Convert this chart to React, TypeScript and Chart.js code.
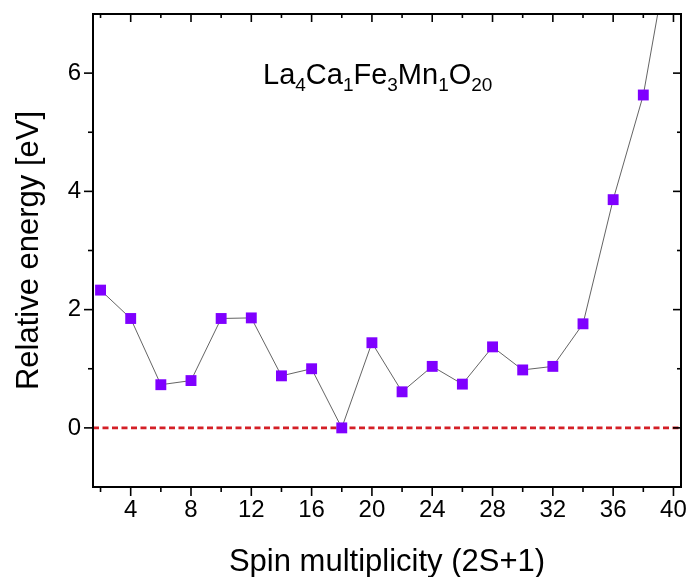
import React, { useEffect, useRef } from 'react';
import { Chart, registerables } from 'chart.js';

Chart.register(...registerables);

const spinMultiplicity = [2, 4, 6, 8, 10, 12, 14, 16, 18, 20, 22, 24, 26, 28, 30, 32, 34, 36, 38, 40];
const relativeEnergy = [2.33, 1.85, 0.73, 0.8, 1.85, 1.86, 0.88, 1.0, 0.0, 1.44, 0.61, 1.04, 0.74, 1.37, 0.98, 1.04, 1.76, 3.86, 5.63, 8.5];
const xMajorTicks = [4, 8, 12, 16, 20, 24, 28, 32, 36, 40];
const xMinorTicks = [2, 6, 10, 14, 18, 22, 26, 30, 34, 38];
const yMajorTicks = [0, 2, 4, 6];
const yMinorTicks = [1, 3, 5];
const xRange = [1.5, 40.5];
const yRange = [-1, 7];
const referenceLevel = 0;
const xTitle = 'Spin multiplicity (2S+1)';
const yTitle = 'Relative energy [eV]';
const formulaParts: [string, string][] = [
  ['La', '4'],
  ['Ca', '1'],
  ['Fe', '3'],
  ['Mn', '1'],
  ['O', '20'],
];

const FONT = '"Liberation Sans", Arial, Helvetica, sans-serif';

export default function App() {
  const ref = useRef<HTMLCanvasElement>(null);

  useEffect(() => {
    const canvas = ref.current!;
    const points = spinMultiplicity.map((x, i) => ({ x, y: relativeEnergy[i] }));
    const zeroLine = [
      { x: xRange[0], y: referenceLevel },
      { x: xRange[1], y: referenceLevel },
    ];

    const framePlugin = {
      id: 'frame',
      afterDraw(chart: any) {
        const { ctx, chartArea: a, scales } = chart;
        const xs = scales.x;
        const ys = scales.y;
        ctx.save();
        ctx.strokeStyle = '#000';
        ctx.lineWidth = 2;
        ctx.strokeRect(a.left, a.top, a.right - a.left, a.bottom - a.top);
        ctx.lineWidth = 1.6;
        const seg = (x1: number, y1: number, x2: number, y2: number) => {
          ctx.beginPath();
          ctx.moveTo(x1, y1);
          ctx.lineTo(x2, y2);
          ctx.stroke();
        };
        xMajorTicks.forEach((v) => {
          const p = xs.getPixelForValue(v);
          seg(p, a.bottom, p, a.bottom + 9);
          seg(p, a.top, p, a.top + 8);
        });
        xMinorTicks.forEach((v) => {
          const p = xs.getPixelForValue(v);
          seg(p, a.bottom, p, a.bottom + 5);
          seg(p, a.top, p, a.top + 4);
        });
        yMajorTicks.forEach((v) => {
          const p = ys.getPixelForValue(v);
          seg(a.left - 9, p, a.left, p);
          seg(a.right - 8, p, a.right, p);
        });
        yMinorTicks.forEach((v) => {
          const p = ys.getPixelForValue(v);
          seg(a.left - 5, p, a.left, p);
          seg(a.right - 4, p, a.right, p);
        });

        // axis titles
        ctx.fillStyle = '#000';
        ctx.font = `31px ${FONT}`;
        ctx.textAlign = 'center';
        ctx.textBaseline = 'alphabetic';
        ctx.fillText(xTitle, (a.left + a.right) / 2, 571);
        ctx.save();
        ctx.translate(38, (a.top + a.bottom) / 2);
        ctx.rotate(-Math.PI / 2);
        ctx.fillText(yTitle, 0, 0);
        ctx.restore();

        // formula annotation
        ctx.textAlign = 'left';
        let cx = 263;
        const base = 84;
        formulaParts.forEach(([el, sub]) => {
          ctx.font = `29px ${FONT}`;
          ctx.fillText(el, cx, base);
          cx += ctx.measureText(el).width;
          ctx.font = `19px ${FONT}`;
          ctx.fillText(sub, cx, base + 7);
          cx += ctx.measureText(sub).width;
        });
        ctx.restore();
      },
    };

    const zeroPad = (s: any) => {
      s.paddingTop = 0;
      s.paddingBottom = 0;
      s.paddingLeft = 0;
      s.paddingRight = 0;
    };

    const chart = new Chart(canvas, {
      type: 'scatter',
      data: {
        datasets: [
          {
            data: zeroLine,
            showLine: true,
            borderColor: '#d41f26',
            borderWidth: 2.6,
            borderDash: [6, 3.5],
            pointRadius: 0,
            order: 2,
          } as any,
          {
            data: points,
            showLine: true,
            borderColor: '#3c3c3c',
            borderWidth: 0.8,
            pointStyle: 'rect',
            pointRadius: 7.7,
            pointBackgroundColor: '#7f00ff',
            pointBorderColor: '#7f00ff',
            pointBorderWidth: 0,
            order: 1,
          } as any,
        ],
      },
      options: {
        responsive: false,
        animation: false,
        devicePixelRatio: 1,
        layout: { padding: { top: 14, right: 8, left: 0, bottom: 0 } },
        plugins: {
          legend: { display: false },
          tooltip: { enabled: false },
        },
        scales: {
          x: {
            type: 'linear',
            min: xRange[0],
            max: xRange[1],
            grid: { display: false, drawTicks: false },
            border: { display: false },
            ticks: {
              font: { family: FONT, size: 24 },
              color: '#000',
              padding: 9,
              maxRotation: 0,
              autoSkip: false,
            },
            afterBuildTicks: (s: any) => {
              s.ticks = xMajorTicks.map((v) => ({ value: v }));
            },
            afterFit: (s: any) => {
              s.height = 90;
              zeroPad(s);
            },
          },
          y: {
            type: 'linear',
            min: yRange[0],
            max: yRange[1],
            grid: { display: false, drawTicks: false },
            border: { display: false },
            ticks: {
              font: { family: FONT, size: 24 },
              color: '#000',
              padding: 12,
              autoSkip: false,
            },
            afterBuildTicks: (s: any) => {
              s.ticks = yMajorTicks.map((v) => ({ value: v }));
            },
            afterFit: (s: any) => {
              s.width = 93;
              zeroPad(s);
            },
          },
        },
      } as any,
      plugins: [framePlugin],
    });
    return () => chart.destroy();
  }, []);

  return (
    <div style={{ position: 'fixed', left: 0, top: 0, width: 689, height: 577, background: '#fff' }}>
      <canvas ref={ref} width={689} height={577} style={{ display: 'block' }} />
    </div>
  );
}
